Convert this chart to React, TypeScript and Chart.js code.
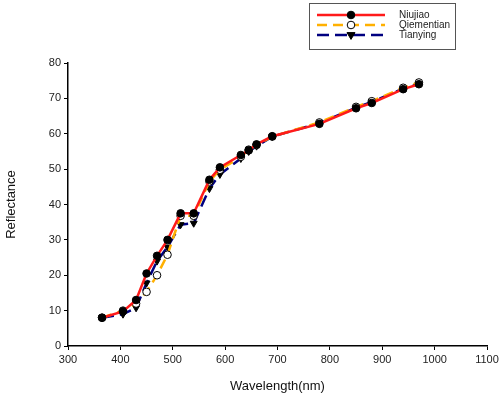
import React, { useEffect, useRef } from "react";
import { Chart, registerables } from "chart.js";

Chart.register(...registerables);

const wavelengths = [365, 405, 430, 450, 470, 490, 515, 540, 570, 590, 630, 645, 660, 690, 780, 850, 880, 940, 970];
const niujiao = [8, 9.8, 13, 20.5, 25.5, 30, 37.5, 37.5, 47, 50.5, 54, 55.3, 57, 59.3, 62.8, 67.2, 68.7, 72.6, 74];
const qiementian = [8, 10, 12, 15.3, 20, 25.8, 36.8, 36.8, 46.5, 49.8, 53.5, 55.5, 56.8, 59.2, 63.2, 67.6, 69.2, 73, 74.5];
const tianying = [8, 9, 10.8, 17.8, 24, 28, 34.3, 34.7, 44.5, 48.5, 53, 55, 56.5, 59.2, 63, 67.4, 69, 72.8, 74.2];
const seriesNames = ["Niujiao", "Qiementian", "Tianying"];
const xTitle = "Wavelength(nm)";
const yTitle = "Reflectance";

const FONT = "'Liberation Sans', Arial, sans-serif";

const legendPlugin = {
  id: "boxLegend",
  afterDraw(chart: any) {
    const ctx = chart.ctx;
    const x0 = 309, y0 = 3, w = 146, h = 46;
    ctx.save();
    ctx.fillStyle = "#fff";
    ctx.fillRect(x0, y0, w, h);
    ctx.strokeStyle = "#555";
    ctx.lineWidth = 1;
    ctx.strokeRect(x0 + 0.5, y0 + 0.5, w, h);
    const rows = [15, 25, 35];
    chart.data.datasets.forEach((ds: any, i: number) => {
      const y = rows[i];
      ctx.save();
      ctx.strokeStyle = ds.borderColor;
      ctx.lineWidth = ds.borderWidth;
      ctx.setLineDash(ds.borderDash || []);
      ctx.beginPath();
      ctx.moveTo(317, y);
      ctx.lineTo(385, y);
      ctx.stroke();
      ctx.restore();
      ctx.save();
      ctx.setLineDash([]);
      ctx.fillStyle = ds.pointBackgroundColor;
      ctx.strokeStyle = ds.pointBorderColor;
      ctx.lineWidth = ds.pointBorderWidth;
      ctx.beginPath();
      if (ds.pointStyle === "triangle") {
        const r = ds.pointRadius;
        ctx.moveTo(351 - r, y - r * 0.6);
        ctx.lineTo(351 + r, y - r * 0.6);
        ctx.lineTo(351, y + r * 1.1);
        ctx.closePath();
      } else {
        ctx.arc(351, y, ds.pointRadius, 0, Math.PI * 2);
      }
      ctx.fill();
      ctx.stroke();
      ctx.restore();
      ctx.fillStyle = "#222";
      ctx.font = `10px ${FONT}`;
      ctx.textBaseline = "middle";
      ctx.textAlign = "left";
      ctx.fillText(ds.label, 399, y + 0.5);
    });
    ctx.restore();
  },
};

export default function App() {
  const ref = useRef<HTMLCanvasElement>(null);
  useEffect(() => {
    if (!ref.current) return;
    const mk = (vals: number[]) => wavelengths.map((x, i) => ({ x, y: vals[i] }));
    const chart = new Chart(ref.current, {
      type: "line",
      data: {
        datasets: [
          {
            label: seriesNames[0],
            data: mk(niujiao),
            borderColor: "#ff1a1a",
            borderWidth: 2.5,
            pointStyle: "circle",
            pointRadius: 3.8,
            pointBackgroundColor: "#000",
            pointBorderColor: "#000",
            pointBorderWidth: 1,
            tension: 0,
          },
          {
            label: seriesNames[1],
            data: mk(qiementian),
            borderColor: "#ffb000",
            borderWidth: 2.5,
            borderDash: [10, 6],
            pointStyle: "circle",
            pointRadius: 3.8,
            pointBackgroundColor: "#fff",
            pointBorderColor: "#000",
            pointBorderWidth: 1,
            tension: 0,
          },
          {
            label: seriesNames[2],
            data: mk(tianying),
            borderColor: "#000080",
            borderWidth: 2.5,
            borderDash: [12, 6],
            pointStyle: "triangle",
            pointRotation: 180,
            pointRadius: 4,
            pointBackgroundColor: "#000",
            pointBorderColor: "#000",
            pointBorderWidth: 1,
            tension: 0,
          },
        ] as any,
      },
      options: {
        animation: false,
        responsive: false,
        layout: { padding: { top: 63, right: 16, left: 0, bottom: 0 } },
        plugins: { legend: { display: false }, tooltip: { enabled: false } },
        scales: {
          x: {
            type: "linear",
            min: 300,
            max: 1100,
            ticks: { stepSize: 100, color: "#222", font: { family: FONT, size: 11 }, padding: 3, callback: (v: any) => String(v) },
            grid: { drawOnChartArea: false, drawTicks: true, tickLength: 4, color: "#000" },
            border: { color: "#000", width: 1.5 },
            title: { display: true, text: xTitle, color: "#111", font: { family: FONT, size: 13 }, padding: { top: 8 } },
            afterFit: (s: any) => { s.height = 52; },
          },
          y: {
            type: "linear",
            min: 0,
            max: 80,
            ticks: { stepSize: 10, color: "#222", font: { family: FONT, size: 11 }, padding: 3, callback: (v: any) => String(v) },
            grid: { drawOnChartArea: false, drawTicks: true, tickLength: 4, color: "#000" },
            border: { color: "#000", width: 1.5 },
            title: { display: true, text: yTitle, color: "#111", font: { family: FONT, size: 13 }, padding: { bottom: 14 } },
            afterFit: (s: any) => { s.width = 68; },
          },
        },
      } as any,
      plugins: [legendPlugin],
    });
    return () => chart.destroy();
  }, []);
  return (
    <div style={{ position: "fixed", left: 0, top: 0, width: 503, height: 398, background: "#fff" }}>
      <canvas ref={ref} width={503} height={398} style={{ width: 503, height: 398 }} />
    </div>
  );
}
